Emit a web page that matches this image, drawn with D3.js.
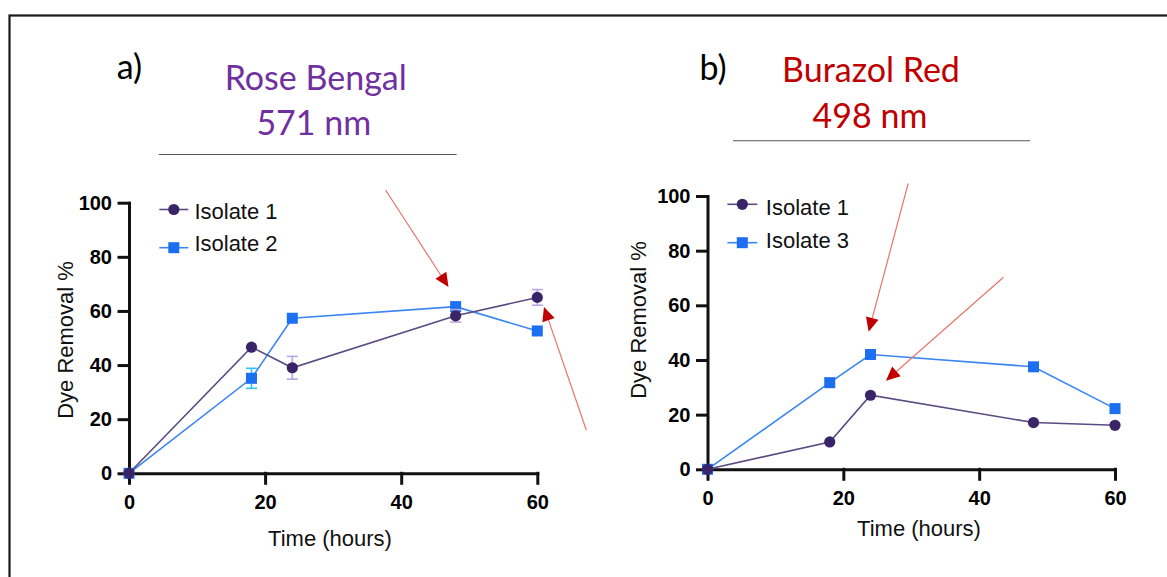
<!DOCTYPE html>
<html>
<head>
<meta charset="utf-8">
<script src="https://cdn.jsdelivr.net/npm/d3@7"></script>
<style>
  html, body { margin: 0; padding: 0; background: #fff; }
  svg { display: block; }
</style>
</head>
<body>
<svg id="chart" width="1167" height="577"></svg>
<script>
// ---------- data ----------
const hours = [0, 18, 24, 48, 60];
const xTicks = [0, 20, 40, 60];
const yTicks = [0, 20, 40, 60, 80, 100];

// Panel a: Rose Bengal 571 nm
const rbIsolate1 = [0, 46.6, 39.0, 58.2, 65.0];
const rbIsolate1Err = [0, 0, 4.2, 2.3, 2.9];
const rbIsolate2 = [0, 35.1, 57.3, 61.6, 52.6];
const rbIsolate2Err = [0, 3.7, 0, 0, 0];

// Panel b: Burazol Red 498 nm
const brIsolate1 = [0, 10.0, 27.1, 17.1, 16.1];
const brIsolate1Err = [0, 0, 0, 0, 0];
const brIsolate3 = [0, 31.7, 42.0, 37.5, 22.2];
const brIsolate3Err = [0, 0, 0, 0, 0];

// annotation arrows, in data units [fromHour, fromPct, toHour, toPct]
const rbArrows = [[37.7, 104.7, 46.95, 68.85], [67.2, 16.0, 60.98, 61.5]];
const brArrows = [[29.55, 104.6, 23.73, 50.35], [43.58, 70.25, 26.27, 32.42]];

const panelLetters = ["a)", "b)"];
const dyeNames = ["Rose Bengal", "Burazol Red"];
const wavelengths = ["571 nm", "498 nm"];

// ---------- styles ----------
const C1_LINE = "#5b4b84", C1_MARK = "#3a2468", C1_ERR = "#b9a5df";
const C2_LINE = "#3a86f3", C2_MARK = "#1c6ff0", C2_ERR = "#2ec3f5";
const AX_FONT = "'Liberation Sans', Arial, Helvetica, sans-serif";
const TITLE_FONT = "Lato, 'Open Sans', sans-serif";

const svg = d3.select("#chart");

// outer frame (runs off right and bottom edges)
svg.append("rect")
  .attr("x", 9.5).attr("y", 15.5).attr("width", 1300).attr("height", 700)
  .attr("fill", "none").attr("stroke", "#1a1a1a").attr("stroke-width", 2.2);

const panels = [
  {
    xr: [129, 537.3], yr: [473.3, 202.7],
    series: [
      {name: "Isolate 2", vals: rbIsolate2, err: rbIsolate2Err, line: C2_LINE, mark: C2_MARK, errc: C2_ERR, shape: "square"},
      {name: "Isolate 1", vals: rbIsolate1, err: rbIsolate1Err, line: C1_LINE, mark: C1_MARK, errc: C1_ERR, shape: "circle"}
    ],
    legend: {lx0: 159.3, lx1: 188.3, tx: 194.4, rows: [209.5, 247.7], textBase: [219.3, 251.3]},
    arrows: rbArrows,
    yTitle: {x: 72.5, y: 340}, xTitle: {x: 330, y: 545.5},
    head: {letterX: 116.7, letterY: 79, titleX: 315.7, titleY: 90, subX: 313.8, subY: 135,
           color: "#7030a0", lineX0: 158.8, lineX1: 456.6, lineY: 154.5}
  },
  {
    xr: [707.5, 1115], yr: [469.3, 196],
    series: [
      {name: "Isolate 3", vals: brIsolate3, err: brIsolate3Err, line: C2_LINE, mark: C2_MARK, errc: C2_ERR, shape: "square"},
      {name: "Isolate 1", vals: brIsolate1, err: brIsolate1Err, line: C1_LINE, mark: C1_MARK, errc: C1_ERR, shape: "circle"}
    ],
    legend: {lx0: 727.4, lx1: 757.2, tx: 765.8, rows: [204.3, 242.7], textBase: [214.6, 247.9]},
    arrows: brArrows,
    yTitle: {x: 646, y: 320}, xTitle: {x: 919, y: 535.5},
    head: {letterX: 699.5, letterY: 80, titleX: 871, titleY: 82, subX: 870, subY: 128.3,
           color: "#c00000", lineX0: 733, lineX1: 1030, lineY: 140.7}
  }
];

panels.forEach((p, i) => {
  const g = svg.append("g");
  const x = d3.scaleLinear().domain([0, 60]).range(p.xr);
  const y = d3.scaleLinear().domain([0, 100]).range(p.yr);

  // heading
  g.append("text").attr("x", p.head.letterX).attr("y", p.head.letterY)
    .attr("font-family", TITLE_FONT).attr("font-size", 34).attr("fill", "#000")
    .text(panelLetters[i]);
  g.append("text").attr("x", p.head.titleX).attr("y", p.head.titleY)
    .attr("text-anchor", "middle")
    .attr("font-family", TITLE_FONT).attr("font-size", 34).attr("fill", p.head.color)
    .text(dyeNames[i]);
  g.append("text").attr("x", p.head.subX).attr("y", p.head.subY)
    .attr("text-anchor", "middle")
    .attr("font-family", TITLE_FONT).attr("font-size", 34).attr("fill", p.head.color)
    .text(wavelengths[i]);
  g.append("line").attr("x1", p.head.lineX0).attr("x2", p.head.lineX1)
    .attr("y1", p.head.lineY).attr("y2", p.head.lineY)
    .attr("stroke", "#555").attr("stroke-width", 1.1);

  // axes
  const xAxis = d3.axisBottom(x).tickValues(xTicks).tickSize(10).tickSizeOuter(0).tickPadding(12);
  const yAxis = d3.axisLeft(y).tickValues(yTicks).tickSize(10).tickSizeOuter(0).tickPadding(7);
  const gx = g.append("g").attr("transform", `translate(0,${p.yr[0]})`).call(xAxis);
  const gy = g.append("g").attr("transform", `translate(${p.xr[0]},0)`).call(yAxis);
  [gx, gy].forEach(ax => {
    ax.selectAll(".domain, .tick line")
      .attr("stroke", "#111").attr("stroke-width", 3).attr("stroke-linecap", "square");
    ax.selectAll(".tick text")
      .attr("font-family", AX_FONT).attr("font-size", 20).attr("font-weight", "bold").attr("fill", "#000");
  });

  // axis titles
  g.append("text")
    .attr("transform", `translate(${p.yTitle.x},${p.yTitle.y}) rotate(-90)`)
    .attr("text-anchor", "middle")
    .attr("font-family", AX_FONT).attr("font-size", 22).attr("fill", "#111")
    .text("Dye Removal %");
  g.append("text")
    .attr("x", p.xTitle.x).attr("y", p.xTitle.y)
    .attr("text-anchor", "middle")
    .attr("font-family", AX_FONT).attr("font-size", 22).attr("fill", "#111")
    .text("Time (hours)");

  // series
  p.series.forEach(s => {
    const pts = hours.map((h, k) => ({h, v: s.vals[k], e: s.err[k]}));
    g.append("path").datum(pts)
      .attr("d", d3.line().x(d => x(d.h)).y(d => y(d.v)))
      .attr("fill", "none").attr("stroke", s.line).attr("stroke-width", 1.6);
    const eb = g.append("g").selectAll("g").data(pts.filter(d => d.e > 0)).join("g")
      .attr("stroke", s.errc).attr("stroke-width", 1.6);
    eb.append("line").attr("x1", d => x(d.h)).attr("x2", d => x(d.h))
      .attr("y1", d => y(d.v - d.e)).attr("y2", d => y(d.v + d.e));
    eb.append("line").attr("x1", d => x(d.h) - 5.5).attr("x2", d => x(d.h) + 5.5)
      .attr("y1", d => y(d.v + d.e)).attr("y2", d => y(d.v + d.e));
    eb.append("line").attr("x1", d => x(d.h) - 5.5).attr("x2", d => x(d.h) + 5.5)
      .attr("y1", d => y(d.v - d.e)).attr("y2", d => y(d.v - d.e));
    if (s.shape === "circle") {
      g.append("g").selectAll("circle").data(pts).join("circle")
        .attr("cx", d => x(d.h)).attr("cy", d => y(d.v)).attr("r", 5.6)
        .attr("fill", s.mark);
    } else {
      g.append("g").selectAll("rect").data(pts).join("rect")
        .attr("x", d => x(d.h) - 5.5).attr("y", d => y(d.v) - 5.5)
        .attr("width", 11).attr("height", 11).attr("fill", s.mark);
    }
  });

  // legend (circle series first row)
  const legOrder = [p.series[1], p.series[0]];
  legOrder.forEach((s, r) => {
    const ry = p.legend.rows[r];
    const cx = (p.legend.lx0 + p.legend.lx1) / 2;
    g.append("line").attr("x1", p.legend.lx0).attr("x2", p.legend.lx1)
      .attr("y1", ry).attr("y2", ry).attr("stroke", s.line).attr("stroke-width", 1.6);
    if (s.shape === "circle") {
      g.append("circle").attr("cx", cx).attr("cy", ry).attr("r", 5.6).attr("fill", s.mark);
    } else {
      g.append("rect").attr("x", cx - 5.5).attr("y", ry - 5.5).attr("width", 11).attr("height", 11).attr("fill", s.mark);
    }
    g.append("text").attr("x", p.legend.tx).attr("y", p.legend.textBase[r])
      .attr("font-family", AX_FONT).attr("font-size", 22).attr("fill", "#111")
      .text(s.name);
  });

  // annotation arrows
  p.arrows.forEach(a => {
    const x0 = x(a[0]), y0 = y(a[1]), x1 = x(a[2]), y1 = y(a[3]);
    const ang = Math.atan2(y1 - y0, x1 - x0);
    const L = 14, W = 6.5;
    const bx = x1 - L * Math.cos(ang), by = y1 - L * Math.sin(ang);
    g.append("line").attr("x1", x0).attr("y1", y0).attr("x2", bx).attr("y2", by)
      .attr("stroke", "#e8746c").attr("stroke-width", 1.2);
    const nx = -Math.sin(ang), ny = Math.cos(ang);
    g.append("path")
      .attr("d", `M${x1},${y1}L${bx + nx * W},${by + ny * W}L${bx - nx * W},${by - ny * W}Z`)
      .attr("fill", "#c00000");
  });
});
</script>
</body>
</html>
